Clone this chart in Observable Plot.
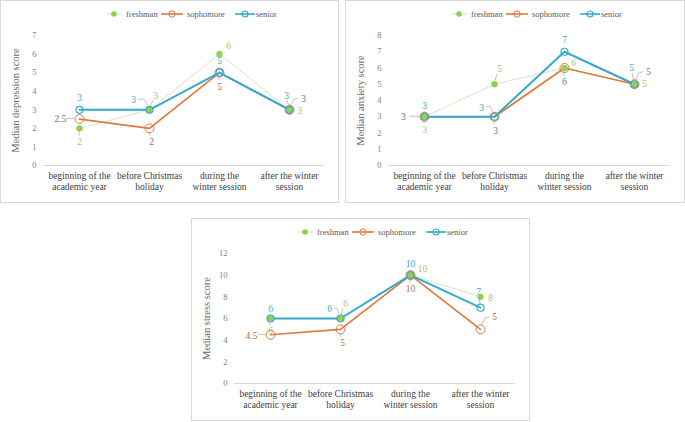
<!DOCTYPE html>
<html>
<head>
<meta charset="utf-8">
<script src="https://cdn.jsdelivr.net/npm/d3@7"></script>
<script src="https://cdn.jsdelivr.net/npm/@observablehq/plot@0.6"></script>
<style>
  html, body { margin: 0; padding: 0; background: #fff; }
  #root { position: relative; width: 685px; height: 422px; font-family: "Liberation Serif", "Times New Roman", Tinos, "DejaVu Serif", serif; }
  .panel { position: absolute; box-sizing: border-box; border: 1px solid #d9d9d9; }
  .chart { position: absolute; }
  .chart text { font-family: "Liberation Serif", "Times New Roman", Tinos, "DejaVu Serif", serif; }
  .leg { position: absolute; font-size: 8.5px; color: #595959; white-space: nowrap; line-height: 12px; }
</style>
</head>
<body>
<div id="root"></div>
<script>
// ---------- data ----------
const categories = ["beginning of the academic year", "before Christmas holiday", "during the winter session", "after the winter session"];
const tickLabels = ["beginning of the\nacademic year", "before Christmas\nholiday", "during the\nwinter session", "after the winter\nsession"];
const seriesNames = ["freshman", "sophomore", "senior"];

const depressionFreshman = [2, 3, 6, 3];
const depressionSophomore = [2.5, 2, 5, 3];
const depressionSenior = [3, 3, 5, 3];

const anxietyFreshman = [3, 5, 6, 5];
const anxietySophomore = [3, 3, 6, 5];
const anxietySenior = [3, 3, 7, 5];

const stressFreshman = [6, 6, 10, 8];
const stressSophomore = [4.5, 5, 10, 5];
const stressSenior = [6, 6, 10, 7];

const depressionTicks = [0, 1, 2, 3, 4, 5, 6, 7];
const anxietyTicks = [0, 1, 2, 3, 4, 5, 6, 7, 8];
const stressTicks = [0, 2, 4, 6, 8, 10, 12];

// ---------- styles ----------
const FONT = '"Liberation Serif", "Times New Roman", Tinos, "DejaVu Serif", serif';
const lineColor = { freshman: "#d5e2bb", sophomore: "#dc7a3f", senior: "#35a8cd" };
const lineWidth = { freshman: 0.9, sophomore: 1.7, senior: 2 };
const labelColor = { freshman: "#a8c16c", sophomore: "#8e6e60", senior: "#39a8cd" };

// label layout: [series, category index, dx, dy, leader points (offsets from point)]
const depressionLabels = [
  ["senior", 0, 0, -12], ["sophomore", 0, -19, 0, [[-12, 0], [-5, 0]]], ["freshman", 0, 0, 14, [[0, 3], [0, 8]]],
  ["senior", 1, -16, -10, [[-11, -10], [-5, -10], [-1, -4]]], ["freshman", 1, 6, -14, [[4, -9], [1, -3]]], ["sophomore", 1, 2, 14, [[0, 4], [1, 8]]],
  ["freshman", 2, 9, -8], ["senior", 2, 0, -12], ["sophomore", 2, 0, 14, [[0, 3], [0, 8]]],
  ["senior", 3, -3, -14, [[-2, -9], [0, -3]]], ["sophomore", 3, 14, -11, [[9, -11], [5, -10], [1, -3]]], ["freshman", 3, 10, 1]
];
const anxietyLabels = [
  ["sophomore", 0, -21, 0, [[-15, 0], [-5, 0]]], ["senior", 0, 0, -11], ["freshman", 0, 0, 13, [[0, 3], [0, 7]]],
  ["freshman", 1, 5, -15, [[3, -10], [1, -3]]], ["senior", 1, -13, -9, [[-8, -10], [-4, -10], [-1, -4]]], ["sophomore", 1, 1, 14, [[0, 3], [0, 8]]],
  ["senior", 2, 0, -12], ["freshman", 2, 9, -5], ["sophomore", 2, 0, 14, [[0, 3], [0, 8]]],
  ["senior", 3, -3, -16, [[-2, -11], [0, -3]]], ["sophomore", 3, 14, -12, [[9, -12], [5, -11], [1, -3]]], ["freshman", 3, 10, 0]
];
const stressLabels = [
  ["senior", 0, 0, -10], ["freshman", 0, 0, 12, [[0, 3], [0, 7]]], ["sophomore", 0, -19, 1, [[-12, 0], [-5, 0]]],
  ["senior", 1, -11, -10, [[-6, -10], [-3, -10], [-1, -4]]], ["freshman", 1, 5, -15, [[3, -10], [1, -3]]], ["sophomore", 1, 2, 14, [[0, 4], [1, 8]]],
  ["senior", 2, 0, -11], ["freshman", 2, 12, -6], ["sophomore", 2, 0, 14, [[0, 3], [0, 8]]],
  ["freshman", 3, 10, 1], ["senior", 3, -2, -16, [[-1, -10], [0, -3]]], ["sophomore", 3, 14, -12, [[9, -12], [5, -11], [1, -3]]]
];

const panels = [
  { left: 0, top: 0, width: 339, title: "Median depression score", ticks: depressionTicks,
    values: { freshman: depressionFreshman, sophomore: depressionSophomore, senior: depressionSenior }, labels: depressionLabels, sophColor: "#8e6e60" },
  { left: 345, top: 0, width: 340, title: "Median anxiety score", ticks: anxietyTicks,
    values: { freshman: anxietyFreshman, sophomore: anxietySophomore, senior: anxietySenior }, labels: anxietyLabels, sophColor: "#8e6e60" },
  { left: 191, top: 218, width: 339, title: "Median stress score", ticks: stressTicks,
    values: { freshman: stressFreshman, sophomore: stressSophomore, senior: stressSenior }, labels: stressLabels, sophColor: "#c06a3e" }
];

const legendItems = [
  { name: "freshman", marker: 114, half: 8, text: 126 },
  { name: "sophomore", marker: 172, half: 11, text: 187 },
  { name: "senior", marker: 245, half: 10, text: 256 }
];

const root = document.getElementById("root");
const H = 203;

function markerSvg(name, half) {
  const w = half * 2 + 2;
  const c = w / 2;
  let m;
  if (name === "freshman") m = `<circle cx="${c}" cy="5" r="2.8" fill="#92d050"/>`;
  else if (name === "sophomore") m = `<circle cx="${c}" cy="5" r="3.2" fill="none" stroke="${lineColor.sophomore}" stroke-width="1"/>`;
  else m = `<circle cx="${c}" cy="5" r="3" fill="none" stroke="${lineColor.senior}" stroke-width="1.2"/>`;
  return `<svg width="${w}" height="10" style="position:absolute;left:${-c}px;top:-5px;overflow:visible"><line x1="1" x2="${w - 1}" y1="5" y2="5" stroke="${lineColor[name]}" stroke-width="${name === "freshman" ? 1 : 1.6}"/>${m}</svg>`;
}

for (const p of panels) {
  const box = document.createElement("div");
  box.className = "panel";
  Object.assign(box.style, { left: p.left + "px", top: p.top + "px", width: p.width + "px", height: H + "px" });
  root.appendChild(box);

  const rows = [];
  for (const s of seriesNames) p.values[s].forEach((v, i) => rows.push({ series: s, cat: categories[i], value: v }));
  const ymax = p.ticks[p.ticks.length - 1];
  const lcol = { ...labelColor, sophomore: p.sophColor };

  const labelMarks = p.labels.map(([s, i, dx, dy]) =>
    Plot.text([{ cat: categories[i], value: p.values[s][i] }], {
      x: "cat", y: "value", text: d => String(d.value), dx, dy,
      fill: lcol[s], fontSize: 9.5, textAnchor: "middle", lineAnchor: "middle"
    }));

  const leaders = (index, scales) => {
    const g = d3.create("svg:g").attr("fill", "none").attr("stroke", "#a6a6a6").attr("stroke-width", 0.7);
    for (const [s, i, , , pts] of p.labels) {
      if (!pts) continue;
      const px = scales.x(categories[i]), py = scales.y(p.values[s][i]);
      g.append("path").attr("d", "M" + pts.map(([a, b]) => `${px + a},${py + b}`).join("L"));
    }
    return g.node();
  };

  const chart = Plot.plot({
    width: p.width, height: H,
    marginLeft: 43, marginRight: 15, marginTop: 35, marginBottom: 38,
    style: { fontFamily: FONT, background: "transparent", overflow: "visible" },
    x: { type: "point", domain: categories, padding: 0.5, axis: null },
    y: { domain: [0, ymax], axis: null },
    marks: [
      Plot.ruleY([0], { stroke: "#d9d9d9", strokeWidth: 1 }),
      Plot.axisY({ ticks: p.ticks, tickSize: 0, tickPadding: 7, fontSize: 8.5, fill: "#7f7f7f", label: null, tickFormat: d => String(d) }),
      Plot.axisX({ tickSize: 0, tickPadding: 6, fontSize: 9.5, fill: "#404040", lineHeight: 1.15, label: null,
        tickFormat: d => tickLabels[categories.indexOf(d)] }),
      Plot.text([p.title], { frameAnchor: "left", rotate: -90, dx: -28, fontSize: 10.5, fill: "#666666", textAnchor: "middle", lineAnchor: "middle" }),
      ...seriesNames.map(s => Plot.line(rows.filter(r => r.series === s), { x: "cat", y: "value", stroke: lineColor[s], strokeWidth: lineWidth[s] })),
      Plot.dot(rows.filter(r => r.series === "freshman"), { x: "cat", y: "value", r: 3.2, fill: "#92d050" }),
      Plot.dot(rows.filter(r => r.series === "sophomore"), { x: "cat", y: "value", r: 4.5, fill: "none", stroke: lineColor.sophomore, strokeWidth: 1 }),
      Plot.dot(rows.filter(r => r.series === "senior"), { x: "cat", y: "value", r: 3.5, fill: "none", stroke: lineColor.senior, strokeWidth: 1.2 }),
      leaders,
      ...labelMarks
    ]
  });
  chart.classList.add("chart");
  Object.assign(chart.style, { left: p.left + "px", top: p.top + "px" });
  root.appendChild(chart);

  for (const it of legendItems) {
    const sw = document.createElement("div");
    sw.style.position = "absolute";
    sw.style.left = (p.left + it.marker) + "px";
    sw.style.top = (p.top + 14) + "px";
    sw.innerHTML = markerSvg(it.name, it.half);
    root.appendChild(sw);
    const t = document.createElement("div");
    t.className = "leg";
    t.textContent = it.name;
    t.style.left = (p.left + it.text) + "px";
    t.style.top = (p.top + 8) + "px";
    root.appendChild(t);
  }
}
</script>
</body>
</html>
